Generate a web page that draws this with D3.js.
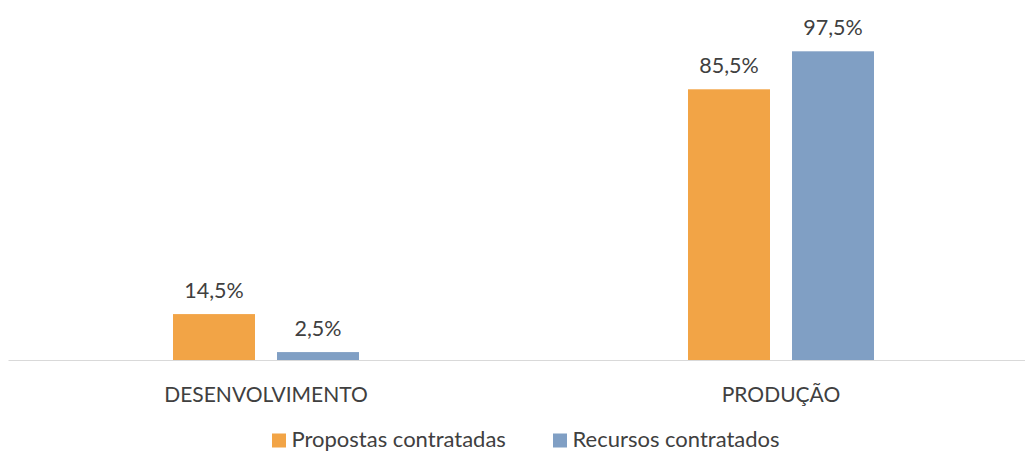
<!DOCTYPE html>
<html>
<head>
<meta charset="utf-8">
<script src="https://cdn.jsdelivr.net/npm/d3@7"></script>
<style>
  body { margin: 0; background: #fff; }
  text { font-family: Lato, "Open Sans", sans-serif; fill: #404040; }
</style>
</head>
<body>
<div class="chart"></div>
<script>
const categories = ["DESENVOLVIMENTO", "PRODUÇÃO"];
const seriesNames = ["Propostas contratadas", "Recursos contratados"];
const propostas = [14.5, 85.5];
const recursos = [2.5, 97.5];

function drawChart() {
  const width = 1025;
  const height = 452;
  const margins = {top: 0, bottom: 92, left: 8.5, right: -13.5};
  const colors = ["#f2a446", "#809fc4"];
  const baseY = 360;

  const svg = d3.select(".chart").append("svg")
    .attr("width", width)
    .attr("height", height);

  const xScale = d3.scaleBand()
    .domain(categories)
    .range([margins.left, width - margins.right]);

  // two bars of 82px with a 22px gap
  const xInner = d3.scaleBand()
    .domain(seriesNames)
    .range([0, 186])
    .paddingInner(22 / 104);

  const yScale = d3.scaleLinear()
    .domain([0, 97.5])
    .range([baseY, 51.3]);

  // baseline
  svg.append("line")
    .attr("x1", margins.left)
    .attr("x2", width)
    .attr("y1", baseY + 0.5)
    .attr("y2", baseY + 0.5)
    .attr("stroke", "#d9d9d9")
    .attr("stroke-width", 1);

  const rows = categories.map((c, i) => ({cat: c, values: [propostas[i], recursos[i]]}));

  const groups = svg.selectAll(".grp")
    .data(rows)
    .enter()
    .append("g")
      .attr("transform", d => `translate(${xScale(d.cat) + xScale.bandwidth() / 2 - 93}, 0)`);

  groups.selectAll("rect")
    .data(d => d.values.map((v, j) => ({name: seriesNames[j], value: v, j: j})))
    .enter()
    .append("rect")
      .attr("x", d => xInner(d.name))
      .attr("width", xInner.bandwidth())
      .attr("y", d => yScale(d.value))
      .attr("height", d => baseY - yScale(d.value))
      .attr("fill", d => colors[d.j]);

  groups.selectAll(".val")
    .data(d => d.values.map((v, j) => ({name: seriesNames[j], value: v})))
    .enter()
    .append("text")
      .attr("class", "val")
      .attr("x", d => xInner(d.name) + xInner.bandwidth() / 2)
      .attr("y", d => yScale(d.value) - 16)
      .attr("text-anchor", "middle")
      .style("font-size", "21.5px")
      .text(d => d.value.toFixed(1).replace(".", ",") + "%");

  // category labels
  svg.selectAll(".cat")
    .data(categories)
    .enter()
    .append("text")
      .attr("class", "cat")
      .attr("x", d => xScale(d) + xScale.bandwidth() / 2)
      .attr("y", 401.5)
      .attr("text-anchor", "middle")
      .style("font-size", "21px")
      .text(d => d);

  // legend
  const legendX = [272, 553];
  const legend = svg.selectAll(".leg")
    .data(seriesNames)
    .enter()
    .append("g")
      .attr("transform", (d, i) => `translate(${legendX[i]}, 0)`);

  legend.append("rect")
    .attr("x", 0)
    .attr("y", 433.5)
    .attr("width", 14)
    .attr("height", 14)
    .attr("fill", (d, i) => colors[i]);

  legend.append("text")
    .attr("x", 19.5)
    .attr("y", 446.5)
    .style("font-size", "22px")
    .text(d => d);
}

drawChart();
</script>
</body>
</html>
